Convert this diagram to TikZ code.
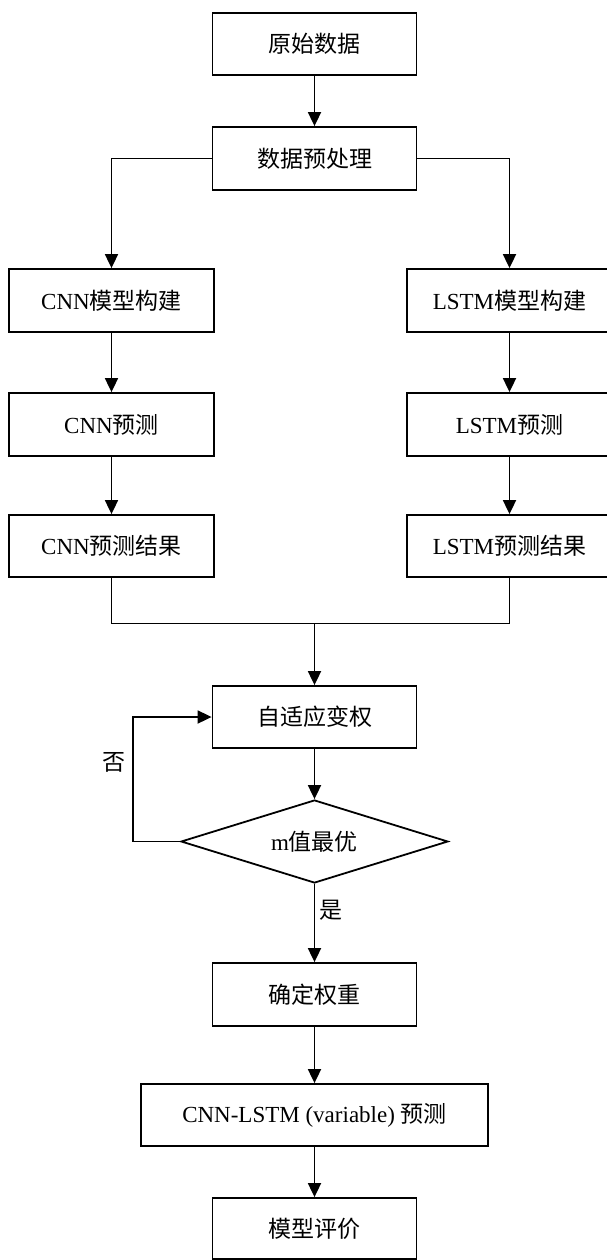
\documentclass[tikz,border=0pt]{standalone}
\usepackage{fontspec}
\setmainfont{Liberation Serif}
\newfontfamily\cjk{Noto Sans CJK SC}
\usetikzlibrary{shapes.geometric,arrows.meta}
\newcommand{\zh}[1]{{\cjk #1}}
\begin{document}
\begin{tikzpicture}[x=1pt,y=-1pt,
  every node/.style={font=\fontsize{23}{28}\selectfont},
  box/.style={draw, line width=1.8pt, minimum width=204pt, minimum height=62pt, inner sep=0pt, anchor=center},
  dec/.style={draw, line width=1.8pt, shape=diamond, aspect=3.2, minimum width=267pt, minimum height=83pt, inner sep=0pt},
  conn/.style={line width=1.8pt, -{Triangle[length=14pt,width=13pt]}},
  plain/.style={line width=1.8pt},
  lbl/.style={inner sep=0pt}]
\useasboundingbox (0,0) rectangle (606,1260);
\node[box] (a) at (314.5,44) {\zh{原始数据}};
\node[box, minimum height=63pt] (b) at (314.5,158.5) {\zh{数据预处理}};
\node[box, minimum width=205pt, minimum height=63pt] (c1) at (111.5,300.5) {CNN\zh{模型构建}};
\node[box, minimum width=205pt, minimum height=63pt] (c2) at (111.5,424.5) {CNN\zh{预测}};
\node[box, minimum width=205pt] (c3) at (111.5,546) {CNN\zh{预测结果}};
\node[box, minimum width=205pt, minimum height=63pt] (l1) at (509.5,300.5) {LSTM\zh{模型构建}};
\node[box, minimum width=205pt, minimum height=63pt] (l2) at (509.5,424.5) {LSTM\zh{预测}};
\node[box, minimum width=205pt] (l3) at (509.5,546) {LSTM\zh{预测结果}};
\node[box] (d) at (314.5,717) {\zh{自适应变权}};
\node[dec] (m) at (314.5,841.5) {m\zh{值最优}};
\node[box, minimum height=63pt] (e) at (314.5,994.5) {\zh{确定权重}};
\node[box, minimum width=347pt] (f) at (314.5,1115) {CNN-LSTM (variable) \zh{预测}};
\node[box, minimum height=61pt] (g) at (314.5,1228.5) {\zh{模型评价}};
\coordinate (mj) at (314.5,623.5);
\coordinate (lp) at (133,841.5);
\node[lbl] (no) at (114,762) {\zh{否}};
\node[lbl] (yes) at (331,910) {\zh{是}};
\draw[conn] (a) -- (b);
\draw[conn] (b.west) -| (c1.north);
\draw[conn] (b.east) -| (l1.north);
\draw[conn] (c1) -- (c2);
\draw[conn] (c2) -- (c3);
\draw[conn] (l1) -- (l2);
\draw[conn] (l2) -- (l3);
\draw[plain] (c3.south) |- (mj) -| (l3.south);
\draw[conn] (mj) -- (d.north);
\draw[conn] (d) -- (m.north);
\draw[conn] (m.west) -- (lp) |- (d.west);
\draw[conn] (m.south) -- (e.north);
\draw[conn] (e) -- (f);
\draw[conn] (f) -- (g);
\end{tikzpicture}
\end{document}
